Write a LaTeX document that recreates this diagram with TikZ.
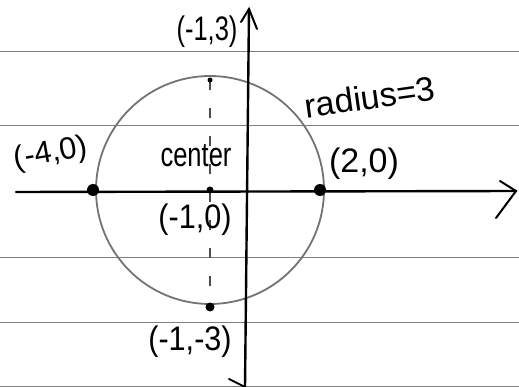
\documentclass[tikz,border=0pt]{standalone}
\usepackage{fontspec}
\setmainfont{Liberation Sans}
\begin{document}
\begin{tikzpicture}[x=1pt,y=-1pt,
  ruled/.style={draw=black!50, line width=0.9pt},
  axisline/.style={draw=black, line width=2.4pt, line cap=round},
  barb/.style={draw=black, line width=2pt, line cap=round},
  circ/.style={draw=black!55, line width=1.8pt},
  guide/.style={draw=black!70, line width=1.2pt, dash pattern=on 10pt off 18pt},
  bigdot/.style={circle, fill=black, inner sep=0pt, minimum size=12pt},
  smalldot/.style={circle, fill=black, inner sep=0pt, minimum size=7pt},
  lbl/.style={font=\fontsize{34}{34}\selectfont, inner sep=0pt}]
\useasboundingbox (0,0) rectangle (519,387);
\fill[white] (0,0) rectangle (519,387);
% ruled paper lines
\foreach \yy in {51,125,257,322,386} \draw[ruled] (0,\yy) -- (519,\yy);
% circle
\coordinate (C) at (210,190);
\draw[circ] (C) circle[radius=114];
% guide through center
\coordinate (T) at (210,80);
\coordinate (B) at (210,307);
\draw[guide] (T) -- (B);
% axes
\coordinate (xl) at (16,192);
\coordinate (xr) at (516,191);
\coordinate (yb) at (245,387);
\coordinate (yt) at (249,9);
\draw[axisline] (xl) -- (xr);
\draw[axisline] (yb) -- (yt);
\draw[barb] (500,181) -- (xr) -- (496,218);
\draw[barb] (241,22) -- (yt) -- (257,29);
\draw[barb] (229,379) -- (yb);
% points
\node[bigdot] (P1) at (93,190) {};
\node[bigdot] (P2) at (320,190) {};
\node[smalldot] (P0) at (C) {};
\node[smalldot, minimum size=5pt] (P3) at (T) {};
\node[smalldot, minimum size=9pt] (P4) at (B) {};
% labels
\node[lbl, xscale=0.75] (l13) at (207,32) {(-1,3)};
\node[lbl, rotate=8] (lrad) at (370,97) {radius=3};
\node[lbl, xscale=0.75] (lcen) at (196,156) {center};
\node[lbl, rotate=10, font=\fontsize{31}{31}\selectfont] (l40) at (51,154) {(-4,0)};
\node[lbl] (l20) at (364,164) {(2,0)};
\node[lbl, xscale=0.9] (l10) at (195,220) {(-1,0)};
\node[lbl, xscale=0.9] (l13b) at (190,342) {(-1,-3)};
\end{tikzpicture}
\end{document}
